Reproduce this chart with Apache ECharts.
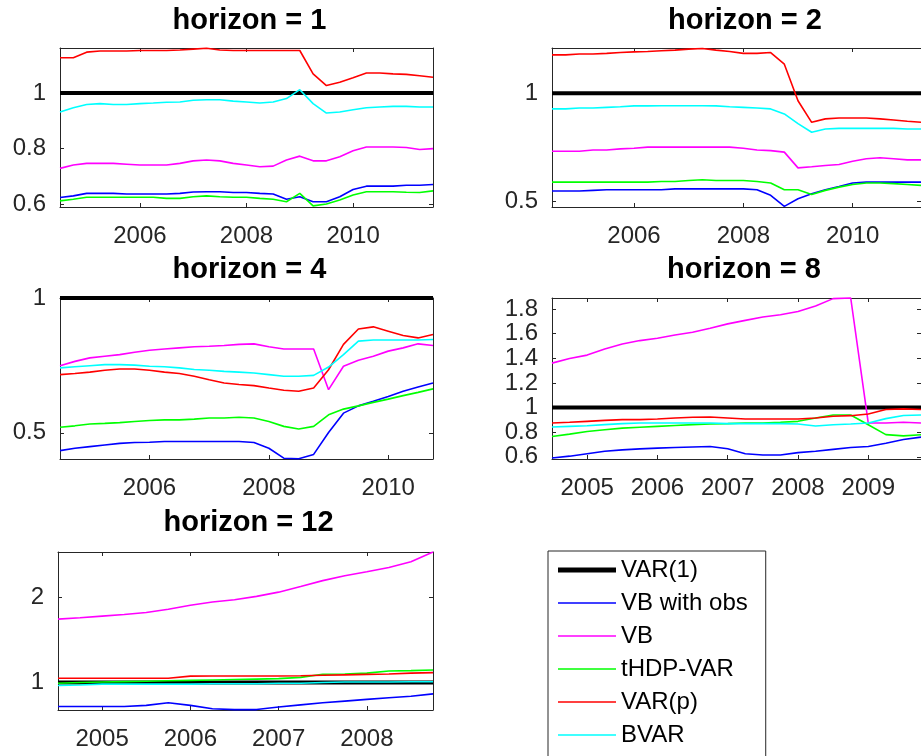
<!DOCTYPE html>
<html>
<head>
<meta charset="utf-8">
<script src="https://cdn.jsdelivr.net/npm/echarts@6/dist/echarts.min.js"></script>
<style>
  html, body { margin: 0; padding: 0; background: #fff; }
  #chart { width: 921px; height: 756px; }
</style>
</head>
<body>
<div id="chart"></div>
<script>
// quarterly dates, every panel uses the first N of them
const quarters = [2004.5, 2004.75, 2005, 2005.25, 2005.5, 2005.75, 2006, 2006.25, 2006.5, 2006.75,
  2007, 2007.25, 2007.5, 2007.75, 2008, 2008.25, 2008.5, 2008.75, 2009, 2009.25,
  2009.5, 2009.75, 2010, 2010.25, 2010.5, 2010.75, 2011, 2011.25, 2011.5]

const seriesNames = ['VAR(1)', 'VB with obs', 'VB', 'tHDP-VAR', 'VAR(p)', 'BVAR']
const seriesColors = ['#000000', '#0000ff', '#ff00ff', '#00ff00', '#ff0000', '#00ffff']

// horizon = 1
const h1Var1 = [1, 1, 1, 1, 1, 1, 1, 1, 1, 1, 1, 1, 1, 1, 1, 1, 1, 1, 1, 1, 1, 1, 1, 1, 1, 1, 1, 1, 1]
const h1VbObs = [0.624, 0.630, 0.639, 0.639, 0.639, 0.637, 0.637, 0.637, 0.637, 0.639, 0.644, 0.645, 0.645, 0.642, 0.642, 0.639, 0.637, 0.618, 0.627, 0.609, 0.609, 0.627, 0.653, 0.665, 0.665, 0.665, 0.668, 0.668, 0.671]
const h1Vb = [0.729, 0.741, 0.747, 0.747, 0.747, 0.744, 0.741, 0.741, 0.741, 0.747, 0.756, 0.759, 0.756, 0.747, 0.741, 0.735, 0.737, 0.759, 0.773, 0.756, 0.756, 0.771, 0.792, 0.806, 0.806, 0.806, 0.804, 0.797, 0.800]
const h1Thdp = [0.612, 0.618, 0.625, 0.625, 0.625, 0.625, 0.625, 0.625, 0.621, 0.621, 0.627, 0.630, 0.627, 0.625, 0.625, 0.621, 0.618, 0.609, 0.639, 0.594, 0.601, 0.615, 0.633, 0.645, 0.645, 0.645, 0.643, 0.642, 0.648]
const h1Varp = [1.127, 1.127, 1.147, 1.151, 1.151, 1.151, 1.153, 1.153, 1.153, 1.155, 1.158, 1.161, 1.155, 1.153, 1.153, 1.153, 1.153, 1.153, 1.153, 1.069, 1.027, 1.039, 1.055, 1.072, 1.072, 1.069, 1.067, 1.062, 1.057]
const h1Bvar = [0.932, 0.947, 0.959, 0.962, 0.959, 0.959, 0.962, 0.964, 0.967, 0.968, 0.974, 0.976, 0.976, 0.971, 0.968, 0.964, 0.968, 0.980, 1.012, 0.962, 0.928, 0.932, 0.940, 0.947, 0.950, 0.952, 0.952, 0.950, 0.950]

// horizon = 2
const h2Var1 = [1, 1, 1, 1, 1, 1, 1, 1, 1, 1, 1, 1, 1, 1, 1, 1, 1, 1, 1, 1, 1, 1, 1, 1, 1, 1, 1, 1]
const h2VbObs = [0.548, 0.548, 0.548, 0.551, 0.554, 0.554, 0.554, 0.554, 0.554, 0.558, 0.558, 0.558, 0.558, 0.558, 0.558, 0.554, 0.528, 0.477, 0.512, 0.535, 0.554, 0.569, 0.585, 0.589, 0.589, 0.589, 0.589, 0.589]
const h2Vb = [0.732, 0.732, 0.732, 0.738, 0.738, 0.743, 0.746, 0.751, 0.751, 0.751, 0.751, 0.751, 0.751, 0.751, 0.746, 0.738, 0.735, 0.728, 0.655, 0.660, 0.666, 0.671, 0.686, 0.697, 0.702, 0.697, 0.692, 0.692]
const h2Thdp = [0.589, 0.589, 0.589, 0.589, 0.589, 0.589, 0.589, 0.589, 0.592, 0.592, 0.597, 0.600, 0.597, 0.597, 0.597, 0.592, 0.585, 0.554, 0.554, 0.532, 0.551, 0.566, 0.578, 0.585, 0.585, 0.582, 0.578, 0.574]
const h2Varp = [1.178, 1.178, 1.182, 1.182, 1.185, 1.189, 1.192, 1.194, 1.197, 1.200, 1.205, 1.208, 1.200, 1.194, 1.185, 1.185, 1.189, 1.135, 0.966, 0.866, 0.882, 0.886, 0.886, 0.886, 0.882, 0.877, 0.871, 0.866]
const h2Bvar = [0.928, 0.928, 0.932, 0.932, 0.935, 0.938, 0.942, 0.942, 0.943, 0.943, 0.943, 0.943, 0.942, 0.938, 0.935, 0.932, 0.928, 0.905, 0.860, 0.820, 0.835, 0.838, 0.838, 0.838, 0.838, 0.838, 0.835, 0.835]

// horizon = 4
const h4Var1 = [1, 1, 1, 1, 1, 1, 1, 1, 1, 1, 1, 1, 1, 1, 1, 1, 1, 1, 1, 1, 1, 1, 1, 1, 1, 1]
const h4VbObs = [0.434, 0.443, 0.449, 0.455, 0.461, 0.464, 0.465, 0.468, 0.468, 0.468, 0.468, 0.468, 0.468, 0.464, 0.443, 0.406, 0.404, 0.420, 0.501, 0.573, 0.600, 0.617, 0.635, 0.654, 0.670, 0.685]
const h4Vb = [0.749, 0.765, 0.778, 0.784, 0.790, 0.799, 0.806, 0.811, 0.815, 0.819, 0.821, 0.824, 0.828, 0.830, 0.819, 0.811, 0.811, 0.811, 0.660, 0.747, 0.769, 0.784, 0.803, 0.815, 0.830, 0.824]
const h4Thdp = [0.521, 0.526, 0.533, 0.535, 0.538, 0.542, 0.546, 0.548, 0.548, 0.551, 0.555, 0.555, 0.558, 0.555, 0.542, 0.524, 0.514, 0.524, 0.567, 0.588, 0.600, 0.613, 0.625, 0.638, 0.650, 0.663]
const h4Varp = [0.716, 0.720, 0.725, 0.732, 0.737, 0.737, 0.732, 0.725, 0.720, 0.710, 0.697, 0.685, 0.679, 0.675, 0.666, 0.658, 0.654, 0.666, 0.734, 0.828, 0.885, 0.893, 0.877, 0.861, 0.852, 0.865]
const h4Bvar = [0.741, 0.745, 0.749, 0.753, 0.753, 0.751, 0.747, 0.745, 0.741, 0.735, 0.732, 0.728, 0.725, 0.722, 0.716, 0.710, 0.710, 0.713, 0.744, 0.790, 0.840, 0.844, 0.844, 0.844, 0.844, 0.846]

// horizon = 8
const h8Var1 = [1, 1, 1, 1, 1, 1, 1, 1, 1, 1, 1, 1, 1, 1, 1, 1, 1, 1, 1, 1, 1, 1]
const h8VbObs = [0.590, 0.605, 0.625, 0.645, 0.656, 0.664, 0.670, 0.675, 0.680, 0.683, 0.665, 0.625, 0.615, 0.615, 0.634, 0.645, 0.660, 0.675, 0.683, 0.710, 0.740, 0.760]
const h8Vb = [1.361, 1.399, 1.426, 1.475, 1.516, 1.544, 1.563, 1.590, 1.612, 1.645, 1.680, 1.708, 1.735, 1.754, 1.781, 1.825, 1.885, 1.890, 0.874, 0.874, 0.880, 0.874]
const h8Thdp = [0.765, 0.784, 0.806, 0.820, 0.833, 0.840, 0.847, 0.854, 0.861, 0.866, 0.869, 0.874, 0.874, 0.880, 0.888, 0.915, 0.940, 0.940, 0.860, 0.780, 0.770, 0.779]
const h8Varp = [0.874, 0.880, 0.888, 0.896, 0.902, 0.902, 0.907, 0.915, 0.921, 0.923, 0.915, 0.907, 0.907, 0.907, 0.907, 0.915, 0.929, 0.934, 0.948, 0.984, 0.989, 0.984]
const h8Bvar = [0.842, 0.847, 0.852, 0.861, 0.869, 0.874, 0.874, 0.874, 0.874, 0.874, 0.869, 0.869, 0.869, 0.869, 0.866, 0.850, 0.860, 0.866, 0.874, 0.910, 0.935, 0.940]

// horizon = 12
const h12Var1 = [1, 1, 1, 1, 1, 1, 1, 1, 1, 1, 1, 1, 1, 1, 1, 1, 1, 1]
const h12VbObs = [0.716, 0.716, 0.716, 0.716, 0.730, 0.760, 0.730, 0.690, 0.680, 0.680, 0.710, 0.736, 0.760, 0.780, 0.800, 0.820, 0.837, 0.865]
const h12Vb = [1.748, 1.764, 1.783, 1.802, 1.826, 1.864, 1.911, 1.950, 1.977, 2.016, 2.066, 2.132, 2.202, 2.260, 2.306, 2.357, 2.426, 2.540]
const h12Thdp = [0.990, 1.000, 1.005, 1.010, 1.015, 1.020, 1.025, 1.030, 1.035, 1.040, 1.045, 1.060, 1.097, 1.100, 1.110, 1.135, 1.140, 1.147]
const h12Varp = [1.050, 1.050, 1.050, 1.050, 1.050, 1.050, 1.075, 1.077, 1.077, 1.077, 1.077, 1.080, 1.085, 1.090, 1.095, 1.100, 1.110, 1.116]
const h12Bvar = [0.965, 0.970, 0.980, 0.980, 0.980, 0.980, 0.980, 0.985, 0.985, 0.985, 0.990, 0.990, 1.000, 1.005, 1.005, 1.005, 1.008, 1.008]

// tick labels
const xTicksEven = [2006, 2008, 2010]
const xTicksYearly8 = [2005, 2006, 2007, 2008, 2009]
const xTicksYearly12 = [2005, 2006, 2007, 2008]
const yTicks1 = [0.6, 0.8, 1]
const yTicks2 = [0.5, 1]
const yTicks4 = [0.5, 1]
const yTicks8 = [0.6, 0.8, 1, 1.2, 1.4, 1.6, 1.8]
const yTicks12 = [1, 2]

const font = '"Liberation Sans", Arial, Helvetica, sans-serif'
const axisColor = '#262626'

const panels = [
  { title: 'horizon = 1', lines: [h1Var1, h1VbObs, h1Vb, h1Thdp, h1Varp, h1Bvar],
    xMax: 2011.5, yMin: 0.59, yMax: 1.162, xTicks: xTicksEven, yTicks: yTicks1,
    box: { left: 60, top: 48, width: 373, height: 159 } },
  { title: 'horizon = 2', lines: [h2Var1, h2VbObs, h2Vb, h2Thdp, h2Varp, h2Bvar],
    xMax: 2011.25, yMin: 0.474, yMax: 1.21, xTicks: xTicksEven, yTicks: yTicks2,
    box: { left: 552, top: 48, width: 380, height: 159 } },
  { title: 'horizon = 4', lines: [h4Var1, h4VbObs, h4Vb, h4Thdp, h4Varp, h4Bvar],
    xMax: 2010.75, yMin: 0.403, yMax: 1.0, xTicks: xTicksEven, yTicks: yTicks4,
    box: { left: 60, top: 298, width: 373, height: 161 } },
  { title: 'horizon = 8', lines: [h8Var1, h8VbObs, h8Vb, h8Thdp, h8Varp, h8Bvar],
    xMax: 2009.75, yMin: 0.582, yMax: 1.89, xTicks: xTicksYearly8, yTicks: yTicks8,
    box: { left: 552, top: 298, width: 378, height: 161 } },
  { title: 'horizon = 12', lines: [h12Var1, h12VbObs, h12Vb, h12Thdp, h12Varp, h12Bvar],
    xMax: 2008.75, yMin: 0.675, yMax: 2.54, xTicks: xTicksYearly12, yTicks: yTicks12,
    box: { left: 58, top: 552, width: 375, height: 158 } },
]

const titleTops = [1, 1, 250, 250, 503]

const grid = []
const xAxis = []
const yAxis = []
const title = []
const series = []

function makeAxis(extra, ticks, showLabel, margin) {
  return Object.assign({
    type: 'value',
    splitLine: { show: false },
    axisLine: { show: true, onZero: false, lineStyle: { color: axisColor, width: 1 } },
    axisTick: { show: true, inside: true, length: 4, customValues: ticks, lineStyle: { color: axisColor } },
    axisLabel: {
      show: showLabel, customValues: ticks, formatter: (v) => String(v),
      fontSize: 24, color: axisColor, fontFamily: font, margin: margin,
    },
  }, extra)
}

panels.forEach((p, i) => {
  grid.push(Object.assign({ containLabel: false }, p.box))
  xAxis.push(makeAxis({ gridIndex: i, position: 'bottom', min: 2004.5, max: p.xMax }, p.xTicks, true, 17))
  xAxis.push(makeAxis({ gridIndex: i, position: 'top', min: 2004.5, max: p.xMax }, p.xTicks, false, 8))
  yAxis.push(makeAxis({ gridIndex: i, position: 'left', min: p.yMin, max: p.yMax }, p.yTicks, true, 14))
  yAxis.push(makeAxis({ gridIndex: i, position: 'right', min: p.yMin, max: p.yMax }, p.yTicks, false, 8))

  title.push({
    text: p.title,
    left: p.box.left + p.box.width / 2 - 2,
    top: titleTops[i],
    textAlign: 'center',
    textStyle: { fontSize: 29, fontWeight: 'bold', color: '#000', fontFamily: font },
  })

  p.lines.forEach((vals, k) => {
    series.push({
      name: seriesNames[k],
      type: 'line',
      xAxisIndex: 2 * i,
      yAxisIndex: 2 * i,
      data: vals.map((v, j) => [quarters[j], v]),
      symbol: 'none',
      clip: false,
      silent: true,
      color: seriesColors[k],
      lineStyle: { width: k === 0 ? 4 : 1.6, color: seriesColors[k] },
    })
  })
})

const chart = echarts.init(document.getElementById('chart'))
chart.setOption({
  animation: false,
  backgroundColor: '#fff',
  title: title,
  grid: grid,
  xAxis: xAxis,
  yAxis: yAxis,
  legend: {
    orient: 'vertical',
    left: 548,
    top: 551,
    height: 260,
    padding: [7, 18, 12, 10],
    itemGap: 9,
    itemWidth: 58,
    itemHeight: 14,
    selectedMode: false,
    backgroundColor: '#fff',
    borderColor: axisColor,
    borderWidth: 1,
    itemStyle: { borderWidth: 0 },
    textStyle: { fontSize: 24, color: '#000', fontFamily: font },
    data: seriesNames.map((n, k) => ({
      name: n,
      icon: k === 0 ? 'path://M0,0H60V5H0Z' : 'path://M0,0H60V1.6H0Z',
    })),
  },
  series: series,
})
</script>
</body>
</html>
